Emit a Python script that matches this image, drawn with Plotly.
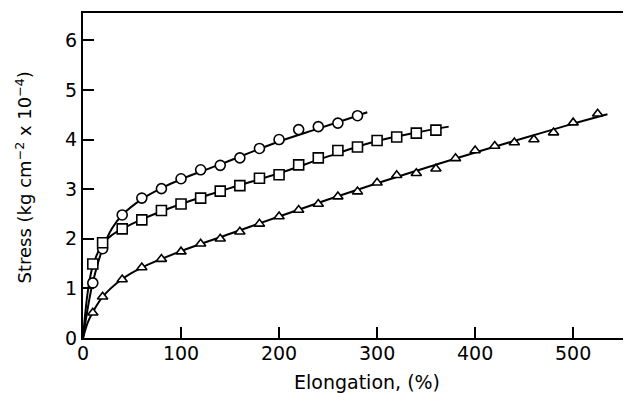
import plotly.graph_objects as go

# Measured points (elongation %, stress kg cm^-2 x 10^-4)
circ_x = [10, 20, 40, 60, 80, 100, 120, 140, 160, 180, 200, 220, 240, 260, 280]
circ_y = [1.11, 1.80, 2.48, 2.82, 3.01, 3.21, 3.39, 3.48, 3.63, 3.82, 4.00, 4.20, 4.26, 4.33, 4.48]

sq_x = [10, 20, 40, 60, 80, 100, 120, 140, 160, 180, 200, 220, 240, 260, 280, 300, 320, 340, 360]
sq_y = [1.49, 1.92, 2.20, 2.38, 2.57, 2.70, 2.82, 2.96, 3.07, 3.22, 3.29, 3.49, 3.63, 3.78, 3.85, 3.98, 4.05, 4.13, 4.19]

tri_x = [10, 20, 40, 60, 80, 100, 120, 140, 160, 180, 200, 220, 240, 260, 280, 300, 320, 340, 360,
         380, 400, 420, 440, 460, 480, 500, 525]
tri_y = [0.51, 0.83, 1.18, 1.42, 1.59, 1.74, 1.90, 2.00, 2.14, 2.30, 2.45, 2.58, 2.70, 2.85, 2.95,
         3.13, 3.28, 3.32, 3.41, 3.62, 3.78, 3.87, 3.94, 4.00, 4.14, 4.34, 4.52]

# Fitted curves
circ_fit_x = [0, 5, 10, 20, 30, 40, 60, 80, 100, 140, 200, 240, 280, 290]
circ_fit_y = [0, 0.62, 1.12, 1.80, 2.22, 2.48, 2.80, 3.02, 3.20, 3.50, 3.96, 4.22, 4.48, 4.55]

sq_fit_x = [0, 5, 10, 20, 30, 40, 60, 100, 150, 200, 250, 300, 340, 373]
sq_fit_y = [0, 0.95, 1.45, 1.90, 2.08, 2.20, 2.39, 2.70, 3.02, 3.32, 3.66, 3.97, 4.14, 4.26]

tri_fit_x = [0, 5, 10, 20, 40, 60, 100, 150, 200, 250, 300, 350, 400, 450, 500, 535]
tri_fit_y = [0, 0.32, 0.52, 0.83, 1.19, 1.42, 1.75, 2.10, 2.45, 2.79, 3.12, 3.43, 3.74, 4.03, 4.32, 4.51]

x_ticks = [0, 100, 200, 300, 400, 500]
y_ticks = [0, 1, 2, 3, 4, 5, 6]

x_title = "Elongation, (%)"
y_title = "Stress (kg cm<sup>−2</sup> x 10<sup>−4</sup>)"

fig = go.Figure()

line_style = dict(color="black", width=2, shape="spline", smoothing=1.0)
for fx, fy in [(circ_fit_x, circ_fit_y), (sq_fit_x, sq_fit_y), (tri_fit_x, tri_fit_y)]:
    fig.add_trace(go.Scatter(x=fx, y=fy, mode="lines", line=line_style,
                             hoverinfo="skip", showlegend=False))

mk_line = dict(color="black", width=1.6)
fig.add_trace(go.Scatter(x=circ_x, y=circ_y, mode="markers", showlegend=False,
                         marker=dict(symbol="circle", size=10, color="white", line=mk_line)))
fig.add_trace(go.Scatter(x=sq_x, y=sq_y, mode="markers", showlegend=False,
                         marker=dict(symbol="square", size=10, color="white", line=mk_line)))
fig.add_trace(go.Scatter(x=tri_x, y=tri_y, mode="markers", showlegend=False,
                         marker=dict(symbol="triangle-up", size=9, color="white", line=mk_line)))

font = dict(family="DejaVu Sans", size=19, color="black")

# page body has an 8px default margin, so the figure is sized to the remaining area
fig.update_layout(
    width=623, height=385,
    margin=dict(l=75, r=0, t=5, b=55),
    paper_bgcolor="white", plot_bgcolor="white",
    font=font,
    xaxis=dict(range=[0, 559], tickvals=x_ticks, ticktext=[str(v) for v in x_ticks],
               ticks="inside", ticklen=11, tickwidth=1.5, tickcolor="black",
               showline=True, linecolor="black", linewidth=2, mirror=True,
               showgrid=False, zeroline=False, automargin=False, ticklabelstandoff=-3),
    yaxis=dict(range=[0, 6.55], tickvals=y_ticks, ticktext=[str(v) for v in y_ticks],
               ticks="inside", ticklen=11, tickwidth=1.5, tickcolor="black",
               showline=True, linecolor="black", linewidth=2,
               showgrid=False, zeroline=False, automargin=False),
    annotations=[
        dict(text=x_title, xref="paper", yref="paper", x=0.518, y=0, yshift=-44,
             xanchor="center", yanchor="middle", showarrow=False,
             font=dict(family="DejaVu Sans", size=19, color="black")),
        dict(text=y_title, xref="paper", yref="paper", x=0, xshift=-59, y=0.494,
             xanchor="center", yanchor="middle", textangle=-90, showarrow=False,
             font=dict(family="DejaVu Sans", size=18, color="black")),
    ],
)

fig.write_html("out.html")
